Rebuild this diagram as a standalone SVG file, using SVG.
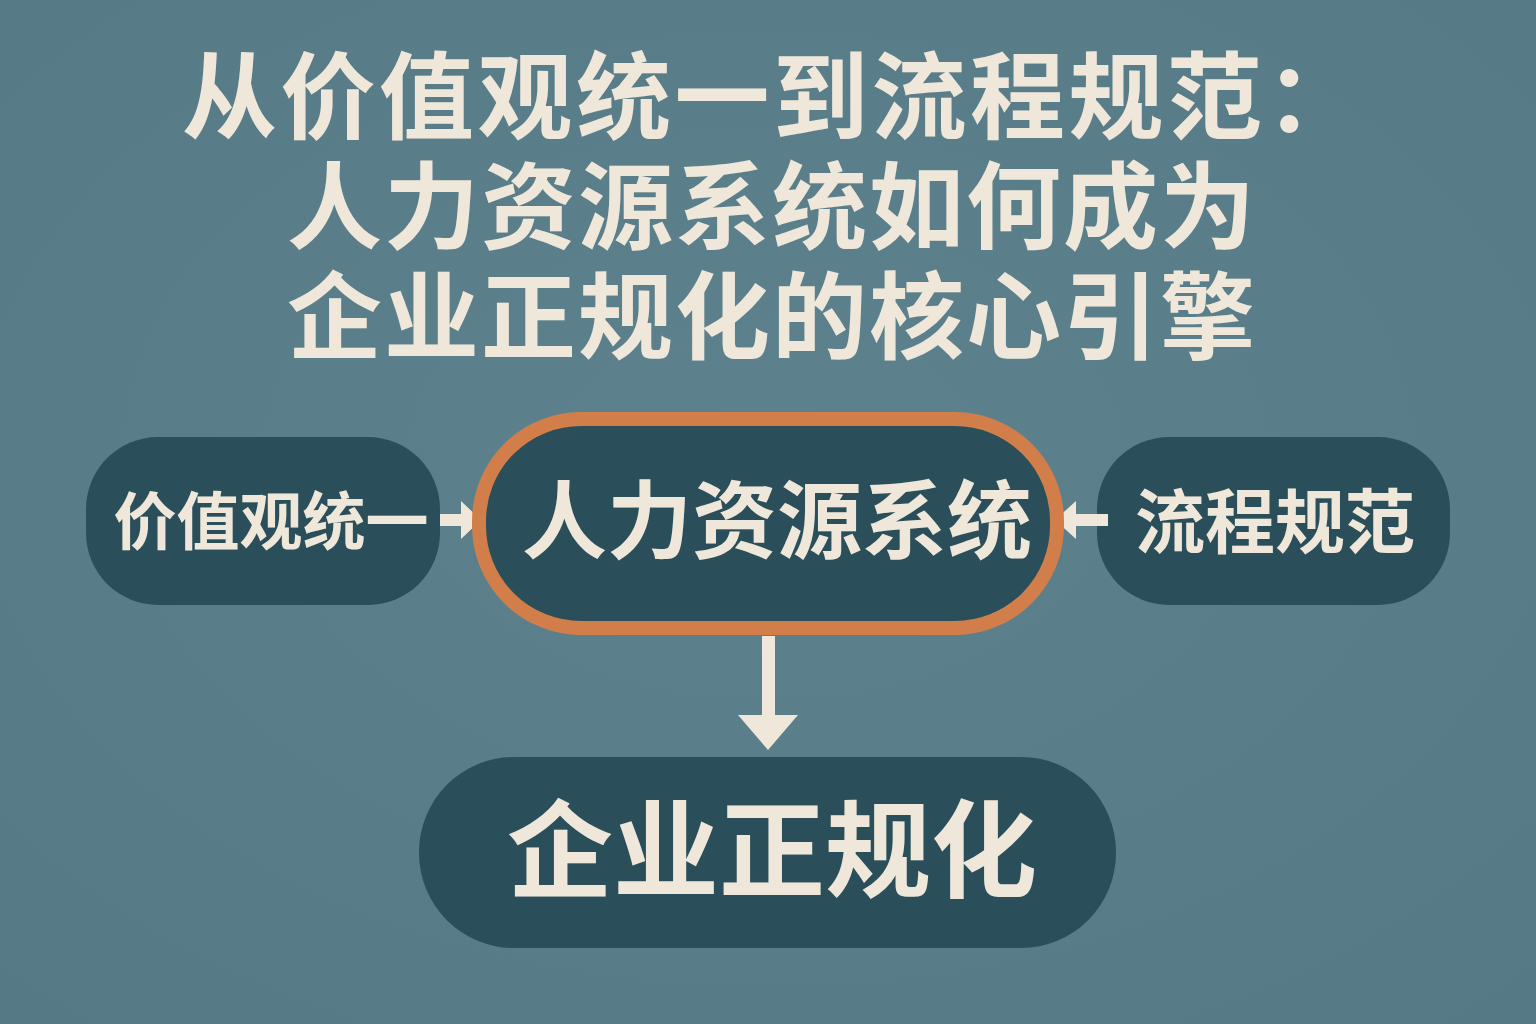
<svg xmlns="http://www.w3.org/2000/svg" width="1536" height="1024" viewBox="0 0 1536 1024">
  <defs>
    <style>
      .t { font-family: "Noto Sans CJK SC", "Liberation Sans", sans-serif; font-weight: 700; fill: #efe8da; }
      .node { fill: #2b4f5a; }
      .hub { fill: #2b4f5a; stroke: #d27e4b; stroke-width: 14; }
      .conn { fill: #efe8da; stroke: none; }
    </style>
    <radialGradient id="bg" cx="50%" cy="45%" r="75%">
      <stop offset="0" stop-color="#5e828d"/>
      <stop offset="1" stop-color="#557985"/>
    </radialGradient>
  </defs>
  <rect x="0" y="0" width="1536" height="1024" fill="url(#bg)"/>

  <g id="title">
    <text class="t" x="182" y="132" font-size="95" letter-spacing="3.5">从价值观统一到流程规范：</text>
    <text class="t" x="287" y="242" font-size="95" letter-spacing="2">人力资源系统如何成为</text>
    <text class="t" x="287" y="352" font-size="95" letter-spacing="2">企业正规化的核心引擎</text>
  </g>

  <g id="connectors">
    <path class="conn" d="M440 514 H461 V501 L481 520 L461 539 V526 H440 Z"/>
    <path class="conn" d="M1108 514 H1076 V501 L1055 520 L1076 539 V526 H1108 Z"/>
    <path class="conn" d="M762 636 H775 V715 H798 L768 750 L738 715 H762 Z"/>
  </g>

  <g id="node-values">
    <rect class="node" x="86" y="437" width="354" height="168" rx="72" ry="72"/>
    <text class="t" x="271" y="544" font-size="63" text-anchor="middle">价值观统一</text>
  </g>

  <g id="node-hr">
    <rect class="hub" x="479" y="419" width="578" height="209" rx="102" ry="102"/>
    <text class="t" x="777" y="552" font-size="85" text-anchor="middle">人力资源系统</text>
  </g>

  <g id="node-process">
    <rect class="node" x="1097" y="437" width="353" height="168" rx="72" ry="72"/>
    <path class="conn" d="M1097 514 H1108 V526 H1097 Z"/>
    <text class="t" x="1275" y="548" font-size="70" text-anchor="middle">流程规范</text>
  </g>

  <g id="node-formal">
    <rect class="node" x="419" y="757" width="697" height="191" rx="95" ry="95"/>
    <text class="t" x="772" y="889" font-size="106" text-anchor="middle">企业正规化</text>
  </g>
</svg>
